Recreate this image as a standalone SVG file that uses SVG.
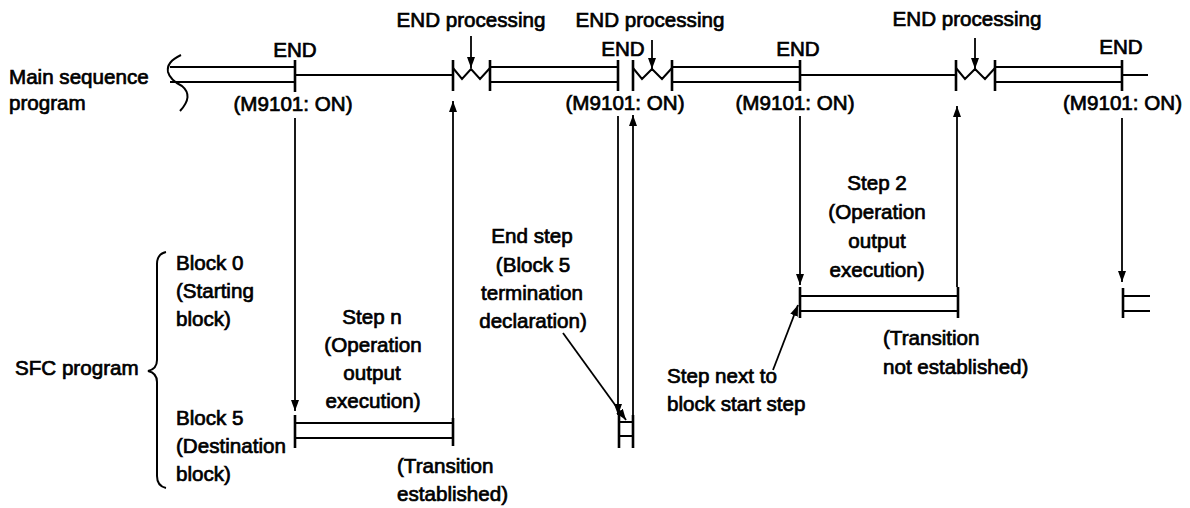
<svg xmlns="http://www.w3.org/2000/svg" width="1190" height="508" viewBox="0 0 1190 508">
<style>
text{font-family:"Liberation Sans",Arial,Helvetica,sans-serif;font-size:20.6px;fill:#000;stroke:#000;stroke-width:0.7}
.m{text-anchor:middle}
.ln{stroke:#000;stroke-width:2;fill:none}
.bar{stroke:#000;stroke-width:2.6;fill:none}
.arr{stroke:#000;stroke-width:1.8;fill:none;marker-end:url(#ah)}
</style>
<defs>
<marker id="ah" viewBox="0 0 11 8" markerWidth="11" markerHeight="8" refX="11" refY="4" orient="auto" markerUnits="userSpaceOnUse">
<path d="M0,0 L11,4 L0,8 z" fill="#000"/>
</marker>
</defs>
<rect width="1190" height="508" fill="#fff"/>

<g id="main-sequence-label">
<text x="9" y="84">Main sequence</text>
<text x="9" y="110">program</text>
</g>

<g id="main-timeline">
<path class="ln" d="M181,55 Q166,62 168,72 Q170,80 182,86 Q194,96 180,111"/>
<path class="ln" d="M170,67 H295 M170,82 H295 M490,67 H618 M490,82 H618 M672,67 H800 M672,82 H800 M995,67 H1122 M995,82 H1122"/>
<path class="ln" d="M295,75 H453 M800,75 H956 M1122,75 H1148"/>
<path class="bar" d="M295,60 V92 M453,60 V91 M490,60 V91 M618,60 V91 M633,60 V91 M672,60 V91 M800,60 V91 M956,60 V91 M995,60 V91 M1122,60 V91"/>
<path class="ln" d="M453,68 L462,79 L471,69 L480,79 L490,68 M633,68 L642,79 L652,69 L662,79 L672,68 M956,68 L965,79 L975,69 L985,79 L995,68"/>
</g>

<g id="end-labels">
<text class="m" x="295" y="57">END</text>
<text class="m" x="293" y="111">(M9101: ON)</text>
<text class="m" x="623" y="56">END</text>
<text class="m" x="625" y="110">(M9101: ON)</text>
<text class="m" x="798" y="56">END</text>
<text class="m" x="795" y="110">(M9101: ON)</text>
<text class="m" x="1121" y="54">END</text>
<text x="1063" y="110">(M9101: ON)</text>
</g>

<g id="end-processing-labels">
<text class="m" x="471" y="27">END processing</text>
<text class="m" x="650" y="27">END processing</text>
<text class="m" x="967" y="26">END processing</text>
</g>

<g id="sfc-program-label">
<path class="ln" d="M166,252 Q157,254 157,264 L157,360 Q157,369 148,371 Q157,373 157,382 L157,476 Q157,486 166,488"/>
<text x="15" y="375">SFC program</text>
<text x="176" y="270">Block 0</text>
<text x="176" y="298">(Starting</text>
<text x="176" y="326">block)</text>
<text x="176" y="425">Block 5</text>
<text x="176" y="453">(Destination</text>
<text x="176" y="481">block)</text>
</g>

<g id="step-n">
<path class="bar" d="M295,415 V448 M453,418 V446"/>
<path class="ln" d="M295,423 H453 M295,438 H453"/>
<text class="m" x="372" y="324">Step n</text>
<text class="m" x="373" y="352">(Operation</text>
<text class="m" x="372" y="380">output</text>
<text class="m" x="373" y="408">execution)</text>
<text x="397" y="473">(Transition</text>
<text x="397" y="501">established)</text>
</g>

<g id="end-step">
<path class="bar" d="M619,415 V448 M633,415 V448"/>
<path class="ln" d="M619,422 H633 M619,436 H633"/>
<text class="m" x="532" y="243">End step</text>
<text class="m" x="533" y="272">(Block 5</text>
<text class="m" x="532" y="300">termination</text>
<text class="m" x="533" y="328">declaration)</text>
</g>

<g id="step-2">
<path class="bar" d="M800,287 V318 M958,287 V318"/>
<path class="ln" d="M800,296 H958 M800,311 H958"/>
<text class="m" x="877" y="190">Step 2</text>
<text class="m" x="877" y="219">(Operation</text>
<text class="m" x="877" y="248">output</text>
<text class="m" x="877" y="277">execution)</text>
<text x="883" y="345">(Transition</text>
<text x="883" y="374">not established)</text>
<text x="667" y="383">Step next to</text>
<text x="667" y="411">block start step</text>
</g>

<g id="next-step">
<path class="bar" d="M1123,288 V318"/>
<path class="ln" d="M1123,296 H1150 M1123,311 H1150"/>
</g>

<g id="connectors">
<path class="arr" d="M471,36 V68"/>
<path class="arr" d="M652,40 V69"/>
<path class="arr" d="M975,38 V69"/>
<path class="arr" d="M295,118 V411"/>
<path class="arr" d="M453,418 V101"/>
<path class="arr" d="M618,116 V415"/>
<path class="arr" d="M633,415 V115"/>
<path class="arr" d="M800,116 V285"/>
<path class="arr" d="M957,287 V106"/>
<path class="arr" d="M1122,118 V282"/>
<path class="arr" d="M563,333 L626,420"/>
<path class="arr" d="M773,370 L798,305"/>
</g>
</svg>
